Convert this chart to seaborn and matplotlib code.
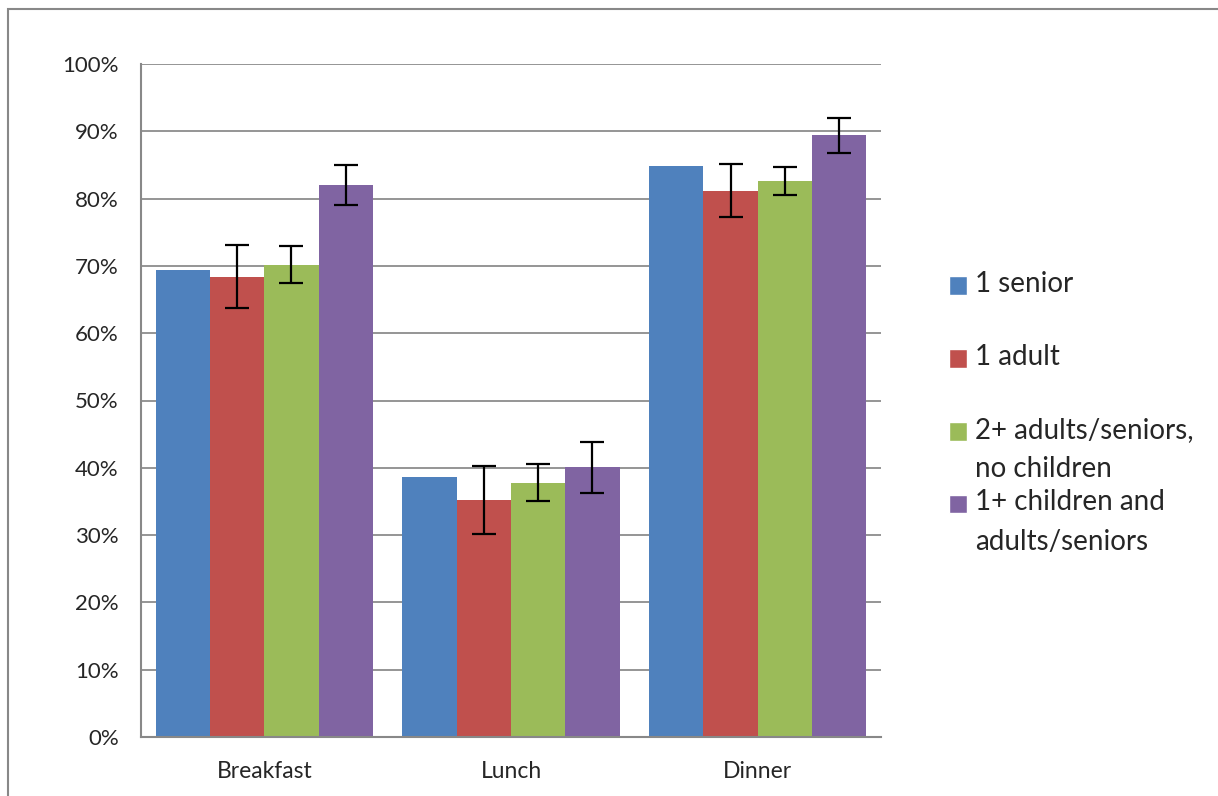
import matplotlib.pyplot as plt
import seaborn as sns
import pandas as pd
import numpy as np
from matplotlib.patches import Rectangle, Patch
from matplotlib.legend_handler import HandlerPatch
from matplotlib.ticker import PercentFormatter

meals = ["Breakfast", "Lunch", "Dinner"]
groups = ["1 senior", "1 adult", "2+ adults/seniors,\nno children",
          "1+ children and\nadults/seniors"]
colors = ["#4f81bd", "#c0504d", "#9bbb59", "#8064a2"]

# share of households (%) per meal, one list per group
senior = [69.4, 38.7, 84.9]
adult = [68.4, 35.2, 81.2]
adults_no_kids = [70.2, 37.8, 82.6]
with_kids = [82.0, 40.1, 89.4]

# half-width of the error bars (%), the "1 senior" group has none
err_adult = [4.7, 5.0, 4.0]
err_no_kids = [2.7, 2.7, 2.1]
err_kids = [3.0, 3.8, 2.6]

values = [senior, adult, adults_no_kids, with_kids]
errors = [None, err_adult, err_no_kids, err_kids]

df = pd.DataFrame({
    "Meal": np.tile(meals, len(groups)),
    "Group": np.repeat(groups, len(meals)),
    "Value": np.concatenate(values),
})

sns.set_style("white")
plt.rcParams["font.family"] = ["Lato", "DejaVu Sans"]

fig = plt.figure(figsize=(12.18, 7.96), dpi=100)
ax = fig.add_axes([141 / 1218, 59 / 796, 740 / 1218, 673 / 796])

sns.barplot(data=df, x="Meal", y="Value", hue="Group", order=meals,
            hue_order=groups, palette=colors, width=0.88, gap=0,
            errorbar=None, saturation=1, linewidth=0, legend=False, ax=ax)

# error bars placed at the centres of the bars seaborn drew
for cont, vals, errs in zip(ax.containers, values, errors):
    if errs is None:
        continue
    xs = [b.get_x() + b.get_width() / 2 for b in cont]
    ax.errorbar(xs, vals, yerr=errs, fmt="none", ecolor="black",
                elinewidth=1.6, capsize=8.5, capthick=1.6, zorder=5)

ax.set_xlim(-0.5, 2.5)
ax.set_ylim(0, 100)
ax.set_yticks(np.arange(0, 101, 10))
ax.yaxis.set_major_formatter(PercentFormatter(decimals=0))
ax.grid(axis="y", color="#8c8c8c", linewidth=1.3)
ax.set_axisbelow(True)
ax.set_xlabel("")
ax.set_ylabel("")
ax.tick_params(axis="y", labelsize=16, length=0, pad=16)
ax.tick_params(axis="x", labelsize=16.5, length=0, pad=17)
for s in ["top", "right"]:
    ax.spines[s].set_visible(False)
for s in ["left", "bottom"]:
    ax.spines[s].set_color("#888888")
    ax.spines[s].set_linewidth(1.5)

# legend: every entry two lines high, swatch next to the first line
leg_fs = 20
line_pt = 38 * 0.72
def top_swatch(legend, orig_handle, xdescent, ydescent, width, height, fontsize):
    return Rectangle((-xdescent, -ydescent + line_pt / 2), width, height)

labels = [g if "\n" in g else g + "\n" for g in groups]
handles = [Patch(facecolor=c) for c in colors]
leg = fig.legend(handles, labels, loc="upper left",
                 bbox_to_anchor=(949 / 1218, 1 - 271 / 796),
                 frameon=False, fontsize=leg_fs, handlelength=0.65,
                 handleheight=0.65, handletextpad=0.3, labelspacing=0.25,
                 borderpad=0, borderaxespad=0,
                 handler_map={Patch: HandlerPatch(patch_func=top_swatch)})
for t in leg.get_texts():
    t.set_linespacing(1.66)

# outer chart border
fig.patches.append(Rectangle((8 / 1218, -0.05), 1.2, 1.05 - 9 / 796,
                             transform=fig.transFigure, fill=False,
                             edgecolor="#888888", linewidth=1.5))

fig.savefig("out.png", dpi=100)
